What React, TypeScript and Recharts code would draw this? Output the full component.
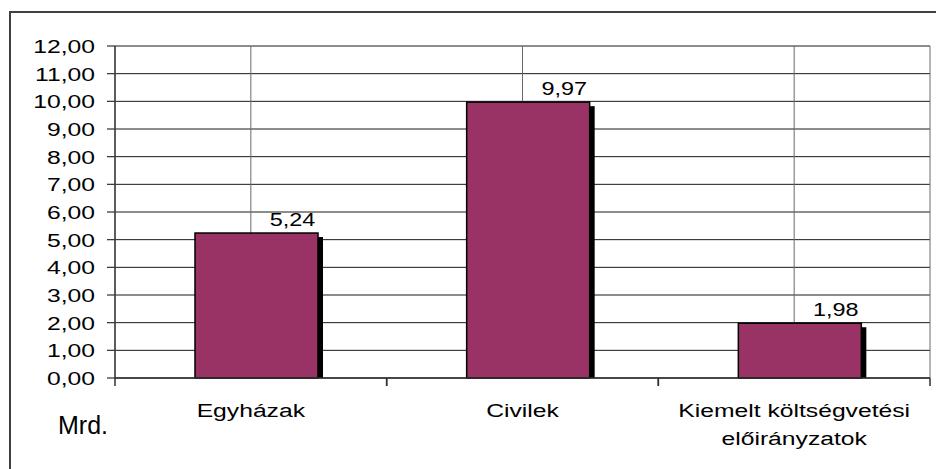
import { BarChart, Bar, XAxis, YAxis, CartesianGrid, LabelList } from "recharts";

const categories = ["Egyházak", "Civilek", "Kiemelt költségvetési előirányzatok"];
const values = [5.24, 9.97, 1.98];
const yTicks = [0, 1, 2, 3, 4, 5, 6, 7, 8, 9, 10, 11, 12];
const unitLabel = "Mrd.";

const data = categories.map((name, i) => ({ name, value: values[i] }));

const FONT = "'Liberation Sans', Arial, sans-serif";
const STRETCH = 1.3; // the original text looks horizontally stretched

const fmt = (v: number) => v.toFixed(2).replace(".", ",");

// long labels go onto two lines, last word on the second
const wrap = (s: string) => {
  const w = s.split(" ");
  if (w.length > 2) return [w.slice(0, -1).join(" "), w[w.length - 1]];
  return [s];
};

const YTick = (props: any) => {
  const { x, y, payload } = props;
  return (
    <g transform={`translate(${x},${y}) scale(${STRETCH},1)`}>
      <text x={0} y={0} dy="0.36em" textAnchor="end" fontFamily={FONT} fontSize={19} fill="#000">
        {fmt(payload.value)}
      </text>
    </g>
  );
};

// category label + the small tick marks at both band edges (Excel style)
const CatTick = (props: any) => {
  const { x, y, payload } = props;
  const lines = wrap(payload.value);
  const half = payload.offset || 0;
  return (
    <g>
      {half > 0 && (
        <g stroke="#303030" strokeWidth={1.5}>
          <line x1={x - half} y1={y} x2={x - half} y2={y + 8} />
          <line x1={x + half} y1={y} x2={x + half} y2={y + 8} />
        </g>
      )}
      <g transform={`translate(${x},${y}) scale(${STRETCH},1)`}>
        {lines.map((l, i) => (
          <text key={i} x={0} y={39 + i * 28} textAnchor="middle" fontFamily={FONT} fontSize={19} fill="#000">
            {l}
          </text>
        ))}
      </g>
    </g>
  );
};

const BarShape = (props: any) => {
  const { x, y, width, height } = props;
  const bx = x + 6;
  return (
    <g>
      <rect x={bx + 5} y={y + 4} width={width} height={Math.max(0, height - 4)} fill="#000" />
      <rect x={bx} y={y} width={width} height={height} fill="#993366" stroke="#000" strokeWidth={1.5} />
    </g>
  );
};

const ValueLabel = (props: any) => {
  const { x, y, width, value } = props;
  const cx = x + width / 2 + 42;
  return (
    <g transform={`translate(${cx},${y - 7}) scale(${STRETCH},1)`}>
      <text x={0} y={0} textAnchor="middle" fontFamily={FONT} fontSize={18} fill="#000">
        {fmt(value)}
      </text>
    </g>
  );
};

export default function App() {
  return (
    <div style={{ position: "absolute", left: 0, top: 0, width: 936, height: 469, overflow: "hidden", background: "#fff" }}>
      <div
        style={{
          position: "absolute",
          left: 9,
          top: 11,
          width: 1000,
          height: 1000,
          borderLeft: "2px solid #404040",
          borderTop: "2px solid #404040",
        }}
      />
      <div style={{ position: "absolute", left: 0, top: 0 }}>
        <BarChart width={936} height={469} data={data} margin={{ top: 46, right: 6, bottom: 0, left: 0 }}>
          <CartesianGrid xAxisId="cat" yAxisId="left" vertical={false} stroke="#1a1a1a" strokeWidth={1} />
          <CartesianGrid xAxisId="cat" yAxisId="left" horizontal={false} stroke="#6a6a6a" strokeWidth={1} />
          <XAxis
            xAxisId="cat"
            dataKey="name"
            height={91}
            interval={0}
            axisLine={{ stroke: "#303030", strokeWidth: 1.5 }}
            tickLine={false}
            tickSize={0}
            tickMargin={0}
            tick={<CatTick />}
          />
          <YAxis
            yAxisId="left"
            width={115}
            domain={[0, 12]}
            ticks={yTicks}
            interval={0}
            axisLine={{ stroke: "#404040", strokeWidth: 1.5 }}
            tickLine={{ stroke: "#303030", strokeWidth: 1.2 }}
            tickSize={8}
            tickMargin={12}
            tick={<YTick />}
          />
          <YAxis
            yAxisId="right"
            orientation="right"
            width={0}
            domain={[0, 12]}
            tick={false}
            tickLine={false}
            axisLine={{ stroke: "#808080", strokeWidth: 2 }}
          />
          <Bar
            xAxisId="cat"
            yAxisId="left"
            dataKey="value"
            barSize={123}
            shape={<BarShape />}
            isAnimationActive={false}
          >
            <LabelList dataKey="value" content={<ValueLabel />} />
          </Bar>
        </BarChart>
      </div>
      <div
        style={{
          position: "absolute",
          left: 58,
          top: 413,
          fontFamily: FONT,
          fontSize: 25,
          lineHeight: "25px",
          color: "#000",
        }}
      >
        {unitLabel}
      </div>
    </div>
  );
}
